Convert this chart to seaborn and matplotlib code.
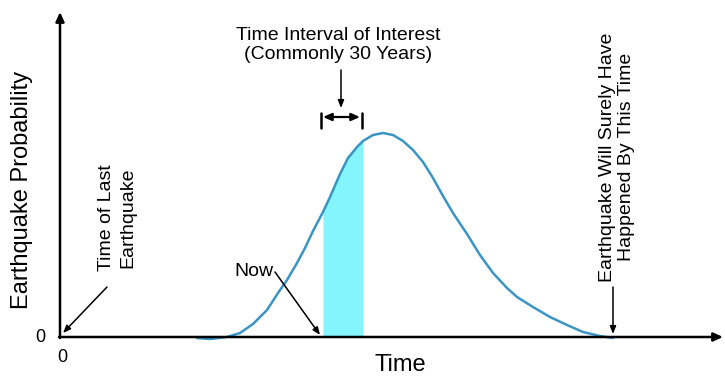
import matplotlib
matplotlib.use("Agg")
import matplotlib.pyplot as plt
import pandas as pd
import seaborn as sns

# Probability curve (time since last quake, relative probability)
time_vals = [137, 150, 167, 180, 193, 207, 218, 227, 237, 245, 253, 263, 270, 280,
             288, 297, 303, 313, 323, 333, 343, 353, 363, 373, 383, 393, 407, 420,
             433, 447, 457, 473, 490, 507, 523, 540, 553]
prob_vals = [-1, -2, 0, 4, 13, 27, 44, 57, 74, 89, 106, 125, 140, 163,
             179, 190, 196, 202, 204, 202, 196, 187, 175, 159, 141, 124, 103, 82,
             64, 49, 40, 30, 20, 12, 5, 1, -1]

# Window of interest
interval_start = 263
interval_end = 303

# Marked times
now_time = 263
last_quake_time = 0
certain_time = 553

axis_x_max = 663
axis_y_max = 325

sns.set_style("white")
plt.rcParams["font.family"] = ["Liberation Sans", "DejaVu Sans"]
plt.rcParams["text.color"] = "black"

curve = pd.DataFrame({"time": time_vals, "prob": prob_vals})

fig = plt.figure(figsize=(7.25, 3.78), dpi=100)
ax = fig.add_axes([0, 0, 1, 1])
ax.set_xlim(-60, 665)
ax.set_ylim(-41, 337)
ax.axis("off")

# shaded interval under the curve
mask = (curve["time"] >= interval_start) & (curve["time"] <= interval_end)
seg = curve[mask]
ax.fill_between(seg["time"], 0, seg["prob"], color="#84f5fc", lw=0, zorder=1)

sns.lineplot(data=curve, x="time", y="prob", ax=ax, sort=False,
             color="#3a95c4", lw=1.8, zorder=3, solid_joinstyle="round")
ax.set_xlabel("")
ax.set_ylabel("")

# axes with arrow heads
arrow_kw = dict(arrowstyle="-|>,head_length=0.55,head_width=0.25", color="black",
                lw=1.8, shrinkA=0, shrinkB=0)
ax.annotate("", xy=(axis_x_max, 0), xytext=(-1, 0), arrowprops=arrow_kw, zorder=4)
ax.annotate("", xy=(0, axis_y_max), xytext=(0, -1), arrowprops=arrow_kw, zorder=4)

ax.text(-38, 147, "Earthquake Probability", rotation=90, ha="center", va="center",
        fontsize=17)
ax.text(340, -28, "Time", ha="center", va="center", fontsize=17)
ax.text(-20, -1, "0", ha="center", va="center", fontsize=13)
ax.text(2, -20, "0", ha="center", va="center", fontsize=13)

thin_arrow = dict(arrowstyle="-|>,head_length=0.45,head_width=0.18", color="black",
                  lw=1.1, shrinkA=0, shrinkB=0)

# interval of interest label
ax.text(278.5, 292, "Time Interval of Interest\n(Commonly 30 Years)", ha="center",
        va="center", fontsize=14, linespacing=1.2)
ax.annotate("", xy=(281, 229), xytext=(281, 267), arrowprops=thin_arrow)
mid_y = 220
ax.plot([interval_start - 2, interval_start - 2], [209, 224], color="black", lw=1.8)
ax.plot([interval_end - 1, interval_end - 1], [209, 224], color="black", lw=1.8)
ax.annotate("", xy=(interval_end - 3, mid_y), xytext=(interval_start, mid_y),
            arrowprops=dict(arrowstyle="<|-|>,head_length=0.5,head_width=0.22",
                            color="black", lw=1.6, shrinkA=0, shrinkB=0))

# time of last earthquake
ax.text(57, 119, "Time of Last\nEarthquake", rotation=90, ha="center", va="center",
        fontsize=14, linespacing=1.3)
ax.annotate("", xy=(last_quake_time + 3, 4), xytext=(47, 50), arrowprops=thin_arrow)

# now
ax.text(194, 66, "Now", ha="center", va="center", fontsize=14)
ax.annotate("", xy=(now_time - 3, 2), xytext=(215, 65), arrowprops=thin_arrow)

# certainty time
ax.text(557, 180, "Earthquake Will Surely Have\nHappened By This Time", rotation=90,
        ha="center", va="center", fontsize=14, linespacing=1.2)
ax.annotate("", xy=(certain_time, 3), xytext=(certain_time, 50), arrowprops=thin_arrow)

fig.savefig("out.png", dpi=100)
